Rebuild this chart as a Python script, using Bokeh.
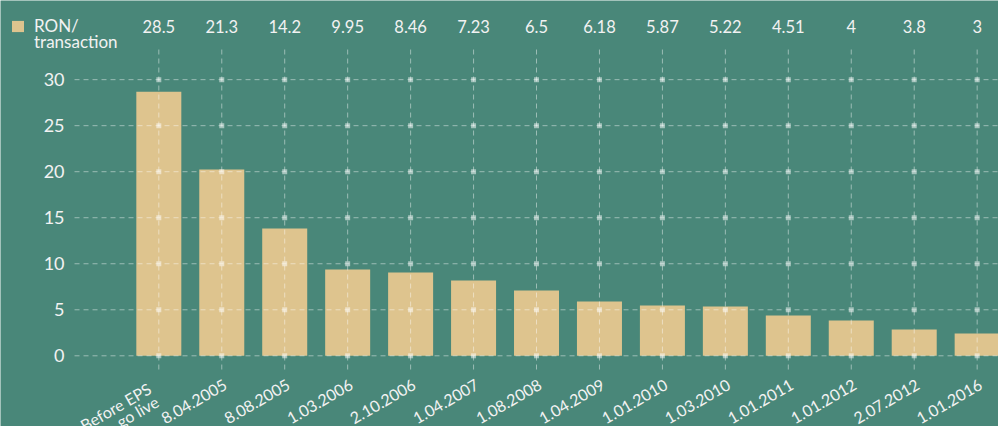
from math import cos, pi, sin

from bokeh.core.properties import value
from bokeh.embed import file_html
from bokeh.models import (ColumnDataSource, FixedTicker, Legend, LegendItem,
                          Range1d)
from bokeh.plotting import figure
from bokeh.resources import INLINE

# Fee per transaction (RON) after each change of the EPS tariff
dates = ["Before EPS\ngo live", "8.04.2005", "8.08.2005", "1.03.2006", "2.10.2006",
         "1.04.2007", "1.08.2008", "1.04.2009", "1.01.2010", "1.03.2010",
         "1.01.2011", "1.01.2012", "2.07.2012", "1.01.2016"]
fees = [28.7, 20.25, 13.84, 9.38, 9.05, 8.18, 7.1, 5.9, 5.47, 5.36,
        4.38, 3.84, 2.86, 2.42]
top_labels = ["28.5", "21.3", "14.2", "9.95", "8.46", "7.23", "6.5", "6.18",
              "5.87", "5.22", "4.51", "4", "3.8", "3"]
y_ticks = [0, 5, 10, 15, 20, 25, 30]
legend_lines = ["RON/", "transaction"]

BG = "#498779"
BAR = "#DEC48E"
TXT = "#F2F2F2"
FONT = "Lato"

# extent of the gridded area inside the canvas-wide frame
X_LEFT, Y_TOP, Y_BOTTOM = -1.339, 33.6, -1.49

idx = list(range(len(dates)))

p = figure(width=998, height=426, output_backend="svg", toolbar_location=None,
           x_range=Range1d(-2.515, 13.339), y_range=Range1d(-7.68, 38.6),
           x_axis_location="above", min_border=0)
p.background_fill_color = BG
p.border_fill_color = BG
p.outline_line_color = None
p.xgrid.visible = False
p.ygrid.visible = False

src = ColumnDataSource(dict(x=idx, fee=fees))
bars = p.vbar(x="x", top="fee", width=0.715, source=src,
              fill_color=BAR, line_color=None)

# dashed grid over the bars, limited to the gridded area
grid_style = dict(line_color="white", line_alpha=0.45, line_dash="5 4",
                  line_width=1)
p.segment(x0=idx, y0=[Y_BOTTOM] * len(idx), x1=idx, y1=[Y_TOP] * len(idx),
          **grid_style)
p.segment(x0=[X_LEFT] * len(y_ticks), y0=y_ticks,
          x1=[p.x_range.end] * len(y_ticks), y1=y_ticks, **grid_style)

# small squares where grid lines cross
gx = [i for i in idx for _ in y_ticks]
gy = [t for _ in idx for t in y_ticks]
p.scatter(gx, gy, marker="square", size=5, fill_color="white",
          fill_alpha=0.5, line_color=None)

# value labels along the top
xa = p.xaxis[0]
xa.fixed_location = Y_TOP
xa.ticker = FixedTicker(ticks=idx)
xa.major_label_overrides = {i: t for i, t in zip(idx, top_labels)}
xa.axis_line_color = None
xa.major_tick_line_color = None
xa.minor_tick_line_color = None
xa.major_tick_out = 0
xa.major_tick_in = 0
xa.major_label_standoff = 14
xa.major_label_text_font = FONT
xa.major_label_text_font_size = "16.5px"
xa.major_label_text_color = TXT

ya = p.yaxis[0]
ya.fixed_location = X_LEFT
ya.ticker = FixedTicker(ticks=y_ticks)
ya.axis_line_color = None
ya.major_tick_line_color = None
ya.minor_tick_line_color = None
ya.major_tick_out = 0
ya.major_tick_in = 0
ya.major_label_standoff = 10
ya.major_label_text_font = FONT
ya.major_label_text_font_size = "18px"
ya.major_label_text_color = TXT

# slanted date labels, each line right-aligned; the first line's top-right
# corner sits just below the zero line, further lines step down across the
# slant by one line pitch
ANG = pi / 6
LINE_PX = 15      # line pitch of the slanted labels
EDGE_PX = 1       # top-right corner relative to the tick
SHIFT_PX = 15     # extra left shift per additional line
DROP_PX = 23      # top-right corner below the zero line
lx, lt, lu, lv = [], [], [], []
for i, d in zip(idx, dates):
    lines = d.split("\n")
    dx = EDGE_PX - SHIFT_PX * (len(lines) - 1)
    for j, line in enumerate(lines):
        lx.append(i)
        lt.append(line)
        lu.append(dx + j * LINE_PX * sin(ANG))
        lv.append(DROP_PX + j * LINE_PX * cos(ANG))
p.text(x=lx, y=[0] * len(lx), text=lt, angle=ANG, x_offset=lu, y_offset=lv,
       text_align="right", text_baseline="top",
       text_font=value(FONT), text_font_size="16px", text_color=TXT)

# legend: swatch beside the first line, second line set just below it
legend_style = dict(padding=0, margin=0, spacing=0, glyph_width=15,
                    glyph_height=14, label_standoff=9, label_height=14,
                    border_line_color=None, background_fill_alpha=0,
                    label_text_font=FONT, label_text_font_size="17px",
                    label_text_color=TXT)
spacer = p.scatter(x=[], y=[], fill_alpha=0, line_alpha=0)
p.add_layout(Legend(items=[LegendItem(label=legend_lines[0], renderers=[bars])],
                    location=(10, 390), **legend_style))
p.add_layout(Legend(items=[LegendItem(label=legend_lines[1], renderers=[spacer])],
                    location=(10, 374), **legend_style))

open("out.html", "w").write(file_html(p, INLINE))
